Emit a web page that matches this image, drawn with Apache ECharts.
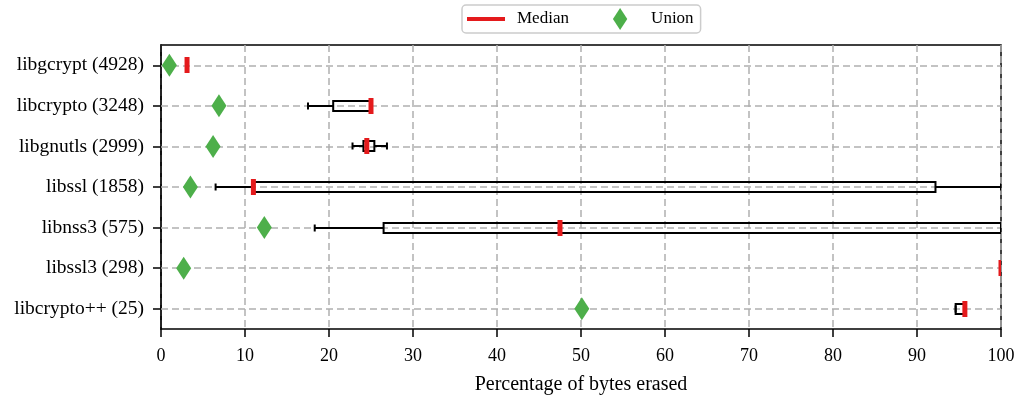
<!DOCTYPE html>
<html>
<head>
<meta charset="utf-8">
<script src="https://cdn.jsdelivr.net/npm/echarts@6/dist/echarts.min.js"></script>
<style>
  html, body { margin: 0; padding: 0; background: #fff; }
  #main { width: 1019px; height: 400px; }
</style>
</head>
<body>
<div id="main"></div>
<script>
// categories top -> bottom
var categories = ['libgcrypt (4928)', 'libcrypto (3248)', 'libgnutls (2999)', 'libssl (1858)',
                  'libnss3 (575)', 'libssl3 (298)', 'libcrypto++ (25)'];
// box statistics, percent of bytes erased
var whiskerLow  = [3.1, 17.5, 22.8,  6.5, 18.3, 100, 94.6];
var q1          = [3.1, 20.5, 24.1, 11.0, 26.5, 100, 94.6];
var median      = [3.1, 25.0, 24.5, 11.0, 47.5, 100, 95.7];
var q3          = [3.1, 25.0, 25.4, 92.2, 100,  100, 95.7];
var whiskerHigh = [3.1, 25.0, 26.9, 100,  100,  100, 95.7];
var union       = [1.0,  6.9,  6.2,  3.5, 12.3,  2.7, 50.1];
var xTicks = [0, 10, 20, 30, 40, 50, 60, 70, 80, 90, 100];

var FONT = 'Liberation Serif';
var RED = '#e41a1c', GREEN = '#4daf4a', GRID = '#b0b0b0';

var boxData = categories.map(function (c, i) {
  return [i, whiskerLow[i], q1[i], median[i], q3[i], whiskerHigh[i]];
});
var unionData = categories.map(function (c, i) { return [union[i], i]; });

function renderBox(params, api) {
  var i = api.value(0);
  var yc = Math.round(api.coord([0, i])[1]);
  var x = function (v) { return api.coord([v, i])[0]; };
  var lo = x(api.value(1)), a = x(api.value(2)), m = x(api.value(3)),
      b = x(api.value(4)), hi = x(api.value(5));
  var ln = { stroke: '#000', lineWidth: 2 };
  return {
    type: 'group',
    children: [
      { type: 'line', shape: { x1: lo, y1: yc, x2: a, y2: yc }, style: ln },
      { type: 'line', shape: { x1: lo, y1: yc - 3.5, x2: lo, y2: yc + 3.5 }, style: ln },
      { type: 'line', shape: { x1: b, y1: yc, x2: hi, y2: yc }, style: ln },
      { type: 'line', shape: { x1: hi, y1: yc - 3.5, x2: hi, y2: yc + 3.5 }, style: ln },
      { type: 'rect', shape: { x: a, y: yc - 5, width: b - a, height: 10 },
        style: { fill: 'none', stroke: '#000', lineWidth: 2 } },
      { type: 'rect', shape: { x: m - 2.5, y: yc - 8, width: 5, height: 16 },
        style: { fill: RED } }
    ]
  };
}

var myChart = echarts.init(document.getElementById('main'));
var option = {
  animation: false,
  textStyle: { fontFamily: FONT },
  legend: {
    left: 462, top: 5,
    padding: [3, 7, 3, 5],
    itemGap: 44,
    itemWidth: 38, itemHeight: 22,
    borderColor: '#cccccc', borderWidth: 1.5, borderRadius: 4,
    textStyle: { fontFamily: FONT, fontSize: 17, color: '#000', padding: [0, 0, 0, 7] },
    data: [
      { name: 'Median', icon: 'path://M0,0h38v4h-38z', itemStyle: { color: RED } },
      { name: 'Union', icon: 'path://M7.5,0L15,11.5L7.5,23L0,11.5Z', itemStyle: { color: GREEN } }
    ]
  },
  grid: {
    left: 161, right: 18, top: 45, bottom: 70,
    show: true, borderColor: '#000', borderWidth: 1.5
  },
  xAxis: {
    type: 'value', min: 0, max: 100, interval: 10,
    name: 'Percentage of bytes erased',
    nameLocation: 'middle', nameGap: 46,
    nameTextStyle: { fontFamily: FONT, fontSize: 20, color: '#000' },
    axisLine: { lineStyle: { color: '#000', width: 1.5 } },
    axisTick: { show: true, length: 8, lineStyle: { color: '#000', width: 1.5 } },
    axisLabel: { fontFamily: FONT, fontSize: 18, color: '#000', margin: 18,
      formatter: function (v) { return xTicks.indexOf(v) >= 0 ? String(v) : ''; } },
    splitLine: { show: true, lineStyle: { color: GRID, type: [7, 4], width: 1.5 } }
  },
  yAxis: {
    type: 'category', data: categories, inverse: true,
    axisLine: { lineStyle: { color: '#000', width: 1.5 } },
    axisTick: { show: true, alignWithLabel: true, length: 8, lineStyle: { color: '#000', width: 1.5 } },
    axisLabel: { fontFamily: FONT, fontSize: 19.5, color: '#000', margin: 17 },
    splitLine: { show: false }
  },
  series: [
    {
      name: 'grid', type: 'scatter', data: [], silent: true,
      markLine: {
        z: 1, silent: true, symbol: 'none', label: { show: false },
        lineStyle: { color: GRID, type: [7, 4], width: 1.5 },
        data: categories.map(function (c, i) { return { yAxis: i }; })
      }
    },
    {
      name: 'Median', type: 'custom', z: 3, clip: true,
      renderItem: renderBox,
      encode: { x: [1, 2, 3, 4, 5], y: 0 },
      itemStyle: { color: RED },
      data: boxData
    },
    {
      name: 'Union', type: 'scatter', z: 4,
      symbol: 'diamond', symbolSize: [15, 23],
      itemStyle: { color: GREEN, opacity: 1 },
      data: unionData
    }
  ]
};
myChart.setOption(option);
</script>
</body>
</html>
